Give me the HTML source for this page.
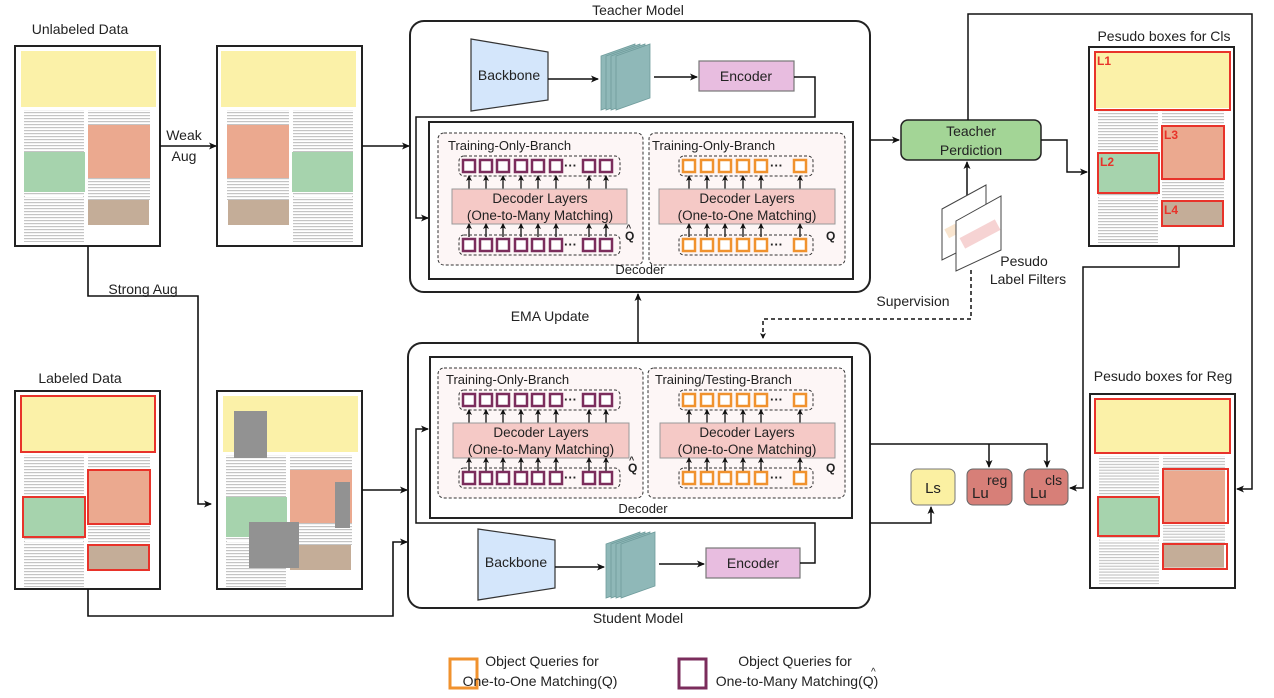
<!DOCTYPE html>
<html><head><meta charset="utf-8"><style>html,body{margin:0;padding:0;background:#fff}svg{display:block}text{font-family:"Liberation Sans",Arial,sans-serif;fill:#222}</style></head><body>
<svg width="1274" height="698" viewBox="0 0 1274 698" xmlns="http://www.w3.org/2000/svg">
<defs>
<marker id="ar" markerWidth="8" markerHeight="8" refX="7" refY="4" orient="auto" markerUnits="userSpaceOnUse"><path d="M0,0.5 L8,4 L0,7.5 L2,4 z" fill="#111"/></marker>
<marker id="as" markerWidth="6" markerHeight="6" refX="5" refY="3" orient="auto" markerUnits="userSpaceOnUse"><path d="M0,0 L6,3 L0,6 L1.5,3 z" fill="#111"/></marker>
<pattern id="tx" width="4" height="3" patternUnits="userSpaceOnUse"><rect width="4" height="1.2" fill="#aaa"/></pattern>
<g id="doc">
<rect x="9" y="64" width="60" height="132" fill="url(#tx)" opacity="0.7"/>
<rect x="73" y="64" width="62" height="90" fill="url(#tx)" opacity="0.7"/>
<rect x="6" y="5" width="135" height="56" fill="#fbf1a8"/>
<rect x="73" y="79" width="62" height="53" fill="#eba98f"/>
<rect x="9" y="106" width="61" height="40" fill="#a6d3ad"/>
<rect x="73" y="154" width="61" height="25" fill="#c4ad98"/>
<rect x="10" y="150" width="58" height="1" fill="#fff"/>
</g>
<g id="pq">
<rect x="0" y="0" width="161" height="20" rx="5" fill="none" stroke="#333" stroke-dasharray="3,2"/>
<g fill="#fff" stroke="#7b2d5c" stroke-width="2.5">
<rect x="4" y="4" width="12" height="12"/><rect x="21" y="4" width="12" height="12"/><rect x="38" y="4" width="12" height="12"/><rect x="56" y="4" width="12" height="12"/><rect x="73" y="4" width="12" height="12"/><rect x="91" y="4" width="12" height="12"/><rect x="124" y="4" width="12" height="12"/><rect x="141" y="4" width="12" height="12"/></g>
<text x="105" y="14" font-size="13" font-weight="bold">···</text>
</g>
<g id="oq">
<rect x="0" y="0" width="134" height="20" rx="5" fill="none" stroke="#333" stroke-dasharray="3,2"/>
<g fill="#fff" stroke="#f0922e" stroke-width="2.5">
<rect x="4" y="4" width="12" height="12"/><rect x="22" y="4" width="12" height="12"/><rect x="40" y="4" width="12" height="12"/><rect x="58" y="4" width="12" height="12"/><rect x="76" y="4" width="12" height="12"/><rect x="115" y="4" width="12" height="12"/></g>
<text x="91" y="14" font-size="13" font-weight="bold">···</text>
</g>
<g id="parr" stroke="#111" stroke-width="1.3" marker-end="url(#as)">
<line x1="469" y1="13" x2="469" y2="0"/><line x1="486" y1="13" x2="486" y2="0"/><line x1="503" y1="13" x2="503" y2="0"/><line x1="521" y1="13" x2="521" y2="0"/><line x1="538" y1="13" x2="538" y2="0"/><line x1="556" y1="13" x2="556" y2="0"/><line x1="589" y1="13" x2="589" y2="0"/><line x1="606" y1="13" x2="606" y2="0"/></g>
<g id="oarr" stroke="#111" stroke-width="1.3" marker-end="url(#as)">
<line x1="689" y1="13" x2="689" y2="0"/><line x1="707" y1="13" x2="707" y2="0"/><line x1="725" y1="13" x2="725" y2="0"/><line x1="743" y1="13" x2="743" y2="0"/><line x1="761" y1="13" x2="761" y2="0"/><line x1="800" y1="13" x2="800" y2="0"/></g>
<g id="feat" fill="#8fb8b8" stroke="#6f9c9c" stroke-width="0.8">
<polygon points="0,14 34,2 34,56 0,68"/><polygon points="5,14 39,2 39,56 5,68"/><polygon points="10,14 44,2 44,56 10,68"/><polygon points="15,14 49,2 49,56 15,68"/></g>
</defs>

<text x="80" y="34" font-size="14" text-anchor="middle">Unlabeled Data</text>
<rect x="15" y="46" width="145" height="200" fill="#fff" stroke="#222" stroke-width="2"/>
<use href="#doc" x="15" y="46"/>
<rect x="217" y="46" width="145" height="200" fill="#fff" stroke="#222" stroke-width="2"/>
<use href="#doc" transform="translate(362,46) scale(-1,1)"/>
<text x="184" y="140" font-size="14" text-anchor="middle">Weak</text>
<text x="184" y="161" font-size="14" text-anchor="middle">Aug</text>
<line x1="160" y1="146" x2="216" y2="146" stroke="#111" stroke-width="1.6" marker-end="url(#ar)"/>
<line x1="362" y1="146" x2="409" y2="146" stroke="#111" stroke-width="1.6" marker-end="url(#ar)"/>
<polyline points="88,246 88,296 198,296 198,504 211,504" fill="none" stroke="#111" stroke-width="1.6" marker-end="url(#ar)"/>
<text x="143" y="294" font-size="14" text-anchor="middle">Strong Aug</text>

<text x="80" y="383" font-size="14" text-anchor="middle">Labeled Data</text>
<rect x="15" y="391" width="145" height="198" fill="#fff" stroke="#222" stroke-width="2"/>
<use href="#doc" x="15" y="391"/>
<g fill="none" stroke="#e8332a" stroke-width="2">
<rect x="21" y="396" width="134" height="56"/><rect x="88" y="470" width="62" height="54"/><rect x="23" y="497" width="62" height="40"/><rect x="88" y="545" width="61" height="25"/></g>
<rect x="217" y="391" width="145" height="198" fill="#fff" stroke="#222" stroke-width="2"/>
<use href="#doc" x="217" y="391"/>
<g fill="#929292"><rect x="234" y="411" width="33" height="47"/><rect x="335" y="482" width="15" height="46"/><rect x="249" y="522" width="50" height="46"/></g>
<line x1="362" y1="490" x2="407" y2="490" stroke="#111" stroke-width="1.6" marker-end="url(#ar)"/>
<polyline points="88,589 88,616 393,616 393,542 407,542" fill="none" stroke="#111" stroke-width="1.6" marker-end="url(#ar)"/>

<text x="638" y="15" font-size="14" text-anchor="middle">Teacher Model</text>
<rect x="410" y="21" width="460" height="271" rx="14" fill="#fff" stroke="#222" stroke-width="2"/>
<polygon points="471,39 548,52 548,100 471,111" fill="#d4e6fb" stroke="#333" stroke-width="1.2"/>
<text x="509" y="80" font-size="14" text-anchor="middle">Backbone</text>
<line x1="548" y1="79" x2="598" y2="79" stroke="#111" stroke-width="1.5" marker-end="url(#ar)"/>
<use href="#feat" x="601" y="42"/>
<line x1="654" y1="77" x2="697" y2="77" stroke="#111" stroke-width="1.5" marker-end="url(#ar)"/>
<rect x="699" y="61" width="95" height="30" fill="#e8bde0" stroke="#777" stroke-width="1.2"/>
<text x="746" y="81" font-size="14" text-anchor="middle">Encoder</text>
<polyline points="794,77 815,77 815,117 416,117 416,218 428,218" fill="none" stroke="#111" stroke-width="1.5" marker-end="url(#ar)"/>
<rect x="429" y="122" width="424" height="157" fill="#fff" stroke="#222" stroke-width="2"/>
<rect x="438" y="133" width="205" height="132" rx="6" fill="#fdf6f6" stroke="#333" stroke-dasharray="3,2"/>
<rect x="649" y="133" width="196" height="132" rx="6" fill="#fdf6f6" stroke="#333" stroke-dasharray="3,2"/>
<text x="448" y="150" font-size="13">Training-Only-Branch</text>
<text x="652" y="150" font-size="13">Training-Only-Branch</text>
<use href="#pq" x="459" y="156"/>
<use href="#parr" y="176"/>
<rect x="452" y="189" width="175" height="35" fill="#f5c9c6" stroke="#999"/>
<text x="540" y="203" font-size="13.5" text-anchor="middle">Decoder Layers</text>
<text x="540" y="220" font-size="13.5" text-anchor="middle">(One-to-Many Matching)</text>
<use href="#parr" y="224"/>
<use href="#pq" x="459" y="235"/>
<text x="625" y="240" font-size="12" font-weight="bold">Q</text><text x="626" y="231" font-size="9" font-weight="bold">^</text>
<use href="#oq" x="679" y="156"/>
<use href="#oarr" y="176"/>
<rect x="659" y="189" width="176" height="35" fill="#f5c9c6" stroke="#999"/>
<text x="747" y="203" font-size="13.5" text-anchor="middle">Decoder Layers</text>
<text x="747" y="220" font-size="13.5" text-anchor="middle">(One-to-One Matching)</text>
<use href="#oarr" y="224"/>
<use href="#oq" x="679" y="235"/>
<text x="826" y="240" font-size="12" font-weight="bold">Q</text>
<text x="640" y="274" font-size="13" text-anchor="middle">Decoder</text>

<line x1="870" y1="140" x2="899" y2="140" stroke="#111" stroke-width="1.5" marker-end="url(#ar)"/>
<rect x="901" y="120" width="140" height="40" rx="7" fill="#a3d596" stroke="#222" stroke-width="1.5"/>
<text x="971" y="136" font-size="14" text-anchor="middle">Teacher</text>
<text x="971" y="155" font-size="14" text-anchor="middle">Perdiction</text>
<polyline points="1041,140 1067,140 1067,172 1087,172" fill="none" stroke="#111" stroke-width="1.5" marker-end="url(#ar)"/>
<polyline points="968,120 968,14 1252,14 1252,489 1237,489" fill="none" stroke="#111" stroke-width="1.5" marker-end="url(#ar)"/>
<line x1="967" y1="197" x2="967" y2="162" stroke="#111" stroke-width="1.5" marker-end="url(#ar)"/>
<polygon points="942,209 986,185 986,238 942,260" fill="#fff" stroke="#444"/>
<rect x="946" y="226" width="12" height="10" fill="#f9e5cf" transform="rotate(-28 952 231)"/>
<polygon points="956,221 1001,196 1001,250 956,271" fill="#fff" stroke="#444"/>
<rect x="960" y="228" width="40" height="12" fill="#f6d3d3" transform="rotate(-28 980 234)"/>
<text x="1024" y="266" font-size="14" text-anchor="middle">Pesudo</text>
<text x="1028" y="284" font-size="14" text-anchor="middle">Label Filters</text>
<text x="913" y="306" font-size="14" text-anchor="middle">Supervision</text>
<polyline points="971,270 971,319 763,319 763,338" fill="none" stroke="#111" stroke-width="1.5" stroke-dasharray="4,3" marker-end="url(#as)"/>
<line x1="638" y1="343" x2="638" y2="294" stroke="#111" stroke-width="1.5" marker-end="url(#ar)"/>
<text x="550" y="321" font-size="14" text-anchor="middle">EMA Update</text>

<text x="1164" y="41" font-size="14" text-anchor="middle">Pesudo boxes for Cls</text>
<rect x="1089" y="47" width="145" height="199" fill="#fff" stroke="#222" stroke-width="2"/>
<use href="#doc" x="1089" y="47"/>
<g fill="none" stroke="#e8332a" stroke-width="2">
<rect x="1095" y="52" width="135" height="58"/><rect x="1162" y="126" width="62" height="53"/><rect x="1098" y="153" width="61" height="40"/><rect x="1162" y="201" width="61" height="25"/></g>
<g font-size="12" font-weight="bold"><text x="1097" y="65" style="fill:#e8332a">L1</text><text x="1164" y="139" style="fill:#e8332a">L3</text><text x="1100" y="166" style="fill:#e8332a">L2</text><text x="1164" y="214" style="fill:#e8332a">L4</text></g>
<polyline points="1179,246 1179,267 1083,267 1083,488 1070,488" fill="none" stroke="#111" stroke-width="1.5" marker-end="url(#ar)"/>

<text x="1163" y="381" font-size="14" text-anchor="middle">Pesudo boxes for Reg</text>
<rect x="1090" y="394" width="145" height="194" fill="#fff" stroke="#222" stroke-width="2"/>
<use href="#doc" transform="translate(1090,394) scale(1,0.97)"/>
<g fill="none" stroke="#e8332a" stroke-width="2">
<rect x="1095" y="399" width="135" height="54"/><rect x="1163" y="469" width="65" height="54"/><rect x="1098" y="497" width="61" height="39"/><rect x="1163" y="544" width="64" height="25"/></g>

<rect x="408" y="343" width="462" height="265" rx="14" fill="#fff" stroke="#222" stroke-width="2"/>
<rect x="430" y="357" width="422" height="161" fill="#fff" stroke="#222" stroke-width="2"/>
<rect x="438" y="368" width="205" height="130" rx="6" fill="#fdf6f6" stroke="#333" stroke-dasharray="3,2"/>
<rect x="648" y="368" width="197" height="130" rx="6" fill="#fdf6f6" stroke="#333" stroke-dasharray="3,2"/>
<text x="446" y="384" font-size="13">Training-Only-Branch</text>
<text x="655" y="384" font-size="13">Training/Testing-Branch</text>
<use href="#pq" x="459" y="390"/>
<use href="#parr" y="410"/>
<rect x="453" y="423" width="176" height="35" fill="#f5c9c6" stroke="#999"/>
<text x="541" y="437" font-size="13.5" text-anchor="middle">Decoder Layers</text>
<text x="541" y="454" font-size="13.5" text-anchor="middle">(One-to-Many Matching)</text>
<use href="#parr" y="458"/>
<use href="#pq" x="459" y="468"/>
<text x="628" y="472" font-size="12" font-weight="bold">Q</text><text x="629" y="463" font-size="9" font-weight="bold">^</text>
<use href="#oq" x="679" y="390"/>
<use href="#oarr" y="410"/>
<rect x="660" y="423" width="175" height="35" fill="#f5c9c6" stroke="#999"/>
<text x="747" y="437" font-size="13.5" text-anchor="middle">Decoder Layers</text>
<text x="747" y="454" font-size="13.5" text-anchor="middle">(One-to-One Matching)</text>
<use href="#oarr" y="458"/>
<use href="#oq" x="679" y="468"/>
<text x="826" y="472" font-size="12" font-weight="bold">Q</text>
<text x="643" y="513" font-size="13" text-anchor="middle">Decoder</text>
<polygon points="478,529 555,540 555,588 478,600" fill="#d4e6fb" stroke="#333" stroke-width="1.2"/>
<text x="516" y="567" font-size="14" text-anchor="middle">Backbone</text>
<line x1="555" y1="567" x2="604" y2="567" stroke="#111" stroke-width="1.5" marker-end="url(#ar)"/>
<use href="#feat" x="606" y="530"/>
<line x1="659" y1="564" x2="704" y2="564" stroke="#111" stroke-width="1.5" marker-end="url(#ar)"/>
<rect x="706" y="548" width="94" height="30" fill="#e8bde0" stroke="#777" stroke-width="1.2"/>
<text x="753" y="568" font-size="14" text-anchor="middle">Encoder</text>
<polyline points="800,563 815,563 815,523 416,523 416,429 428,429" fill="none" stroke="#111" stroke-width="1.5" marker-end="url(#ar)"/>
<text x="638" y="623" font-size="14" text-anchor="middle">Student Model</text>

<polyline points="870,444 1047,444 1047,467" fill="none" stroke="#111" stroke-width="1.5" marker-end="url(#ar)"/>
<line x1="989" y1="444" x2="989" y2="467" stroke="#111" stroke-width="1.5" marker-end="url(#ar)"/>
<polyline points="870,523 931,523 931,507" fill="none" stroke="#111" stroke-width="1.5" marker-end="url(#ar)"/>
<rect x="911" y="469" width="44" height="36" rx="6" fill="#fbf0a2" stroke="#777"/>
<text x="933" y="493" font-size="15" text-anchor="middle">Ls</text>
<rect x="967" y="469" width="45" height="36" rx="6" fill="#d77f78" stroke="#666"/>
<text x="972" y="498" font-size="15">Lu</text><text x="987" y="485" font-size="14">reg</text>
<rect x="1024" y="469" width="44" height="36" rx="6" fill="#d77f78" stroke="#666"/>
<text x="1030" y="498" font-size="15">Lu</text><text x="1045" y="485" font-size="14">cls</text>

<rect x="450" y="659" width="27" height="29" fill="#fff" stroke="#f0922e" stroke-width="3"/>
<text x="542" y="666" font-size="14" text-anchor="middle">Object Queries for</text>
<text x="540" y="686" font-size="14" text-anchor="middle">One-to-One Matching(Q)</text>
<rect x="679" y="659" width="27" height="29" fill="#fff" stroke="#7b2d5c" stroke-width="3"/>
<text x="795" y="666" font-size="14" text-anchor="middle">Object Queries for</text>
<text x="797" y="686" font-size="14" text-anchor="middle">One-to-Many Matching(Q)</text>
<text x="871" y="675" font-size="10">^</text>
</svg>
</body></html>
